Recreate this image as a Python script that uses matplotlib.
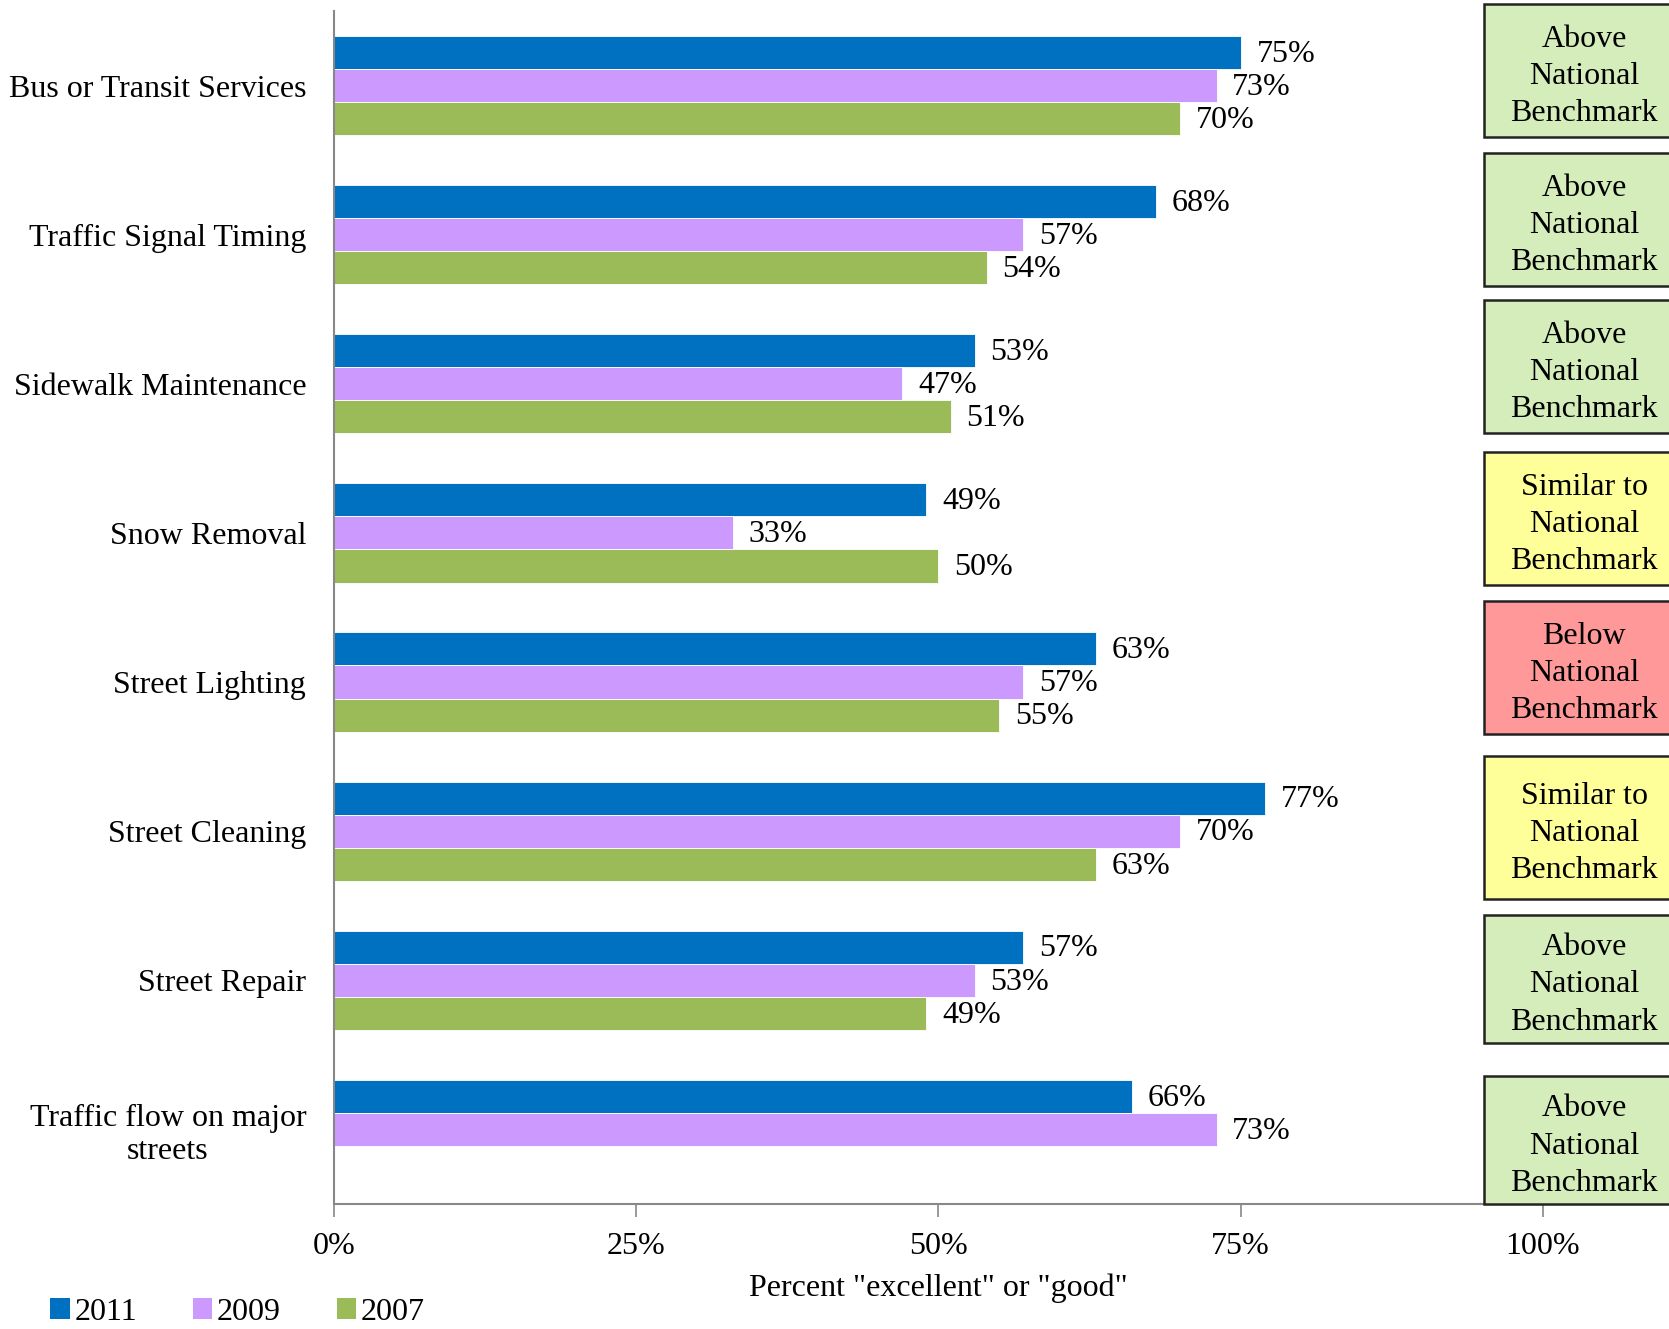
import numpy as np
import matplotlib.pyplot as plt
from matplotlib.patches import Rectangle, Patch

categories = ["Bus or Transit Services", "Traffic Signal Timing", "Sidewalk Maintenance",
              "Snow Removal", "Street Lighting", "Street Cleaning", "Street Repair",
              "Traffic flow on major\nstreets"]
years = ["2011", "2009", "2007"]
v2011 = [75, 68, 53, 49, 63, 77, 57, 66]
v2009 = [73, 57, 47, 33, 57, 70, 53, 73]
v2007 = [70, 54, 51, 50, 55, 63, 49, None]
benchmarks = ["Above", "Above", "Above", "Similar to", "Below", "Similar to", "Above", "Above"]

colors = ["#0070C0", "#CC99FF", "#9BBB59"]
bench_colors = {"Above": "#D4EDBA", "Similar to": "#FFFF99", "Below": "#FF9999"}

plt.rcParams['font.family'] = ['Liberation Serif', 'DejaVu Serif']
fs = 23

fig = plt.figure(figsize=(16.69, 13.29), dpi=100)
ax = fig.add_axes([0.2001, 0.0941, 0.7244, 0.8976])

n = len(categories)
y = np.arange(n)
h = 0.222
for k, vals in enumerate([v2011, v2009, v2007]):
    for i, v in enumerate(vals):
        if v is None:
            continue
        yy = y[i] + (k - 1) * h
        ax.barh(yy, v / 100, height=h, color=colors[k], edgecolor="white", linewidth=0.6)
        ax.text(v / 100 + 0.013, yy + 0.012, f"{v}%", va="center", ha="left", fontsize=fs)

ax.set_ylim(n - 0.5, -0.5)
ax.set_xlim(0, 1)
ax.set_yticks(y)
ax.set_yticklabels(categories, fontsize=fs, ha="right", multialignment="center")
ax.tick_params(axis="y", length=0, pad=20)
ax.set_xticks([0, 0.25, 0.5, 0.75, 1.0])
ax.set_xticklabels(["0%", "25%", "50%", "75%", "100%"], fontsize=fs)
ax.tick_params(axis="x", direction="out", length=9, width=1.2, color="#888888", pad=11)
ax.set_xlabel('Percent "excellent" or "good"', fontsize=fs, labelpad=9)
for s in ["top", "right"]:
    ax.spines[s].set_visible(False)
for s in ["left", "bottom"]:
    ax.spines[s].set_color("#888888")
    ax.spines[s].set_linewidth(1.5)

# benchmark boxes (figure pixel coordinates)
W, H = 1669, 1329
box_y = [(4, 137), (153, 286), (300, 433), (452, 585), (601, 734), (756, 899), (915, 1043), (1076, 1204)]
for (y0, y1), b in zip(box_y, benchmarks):
    rect = Rectangle((1484 / W, 1 - y1 / H), 220 / W, (y1 - y0) / H, transform=fig.transFigure,
                     facecolor=bench_colors[b], edgecolor="#222222", linewidth=1.8, clip_on=False)
    fig.patches.append(rect)
    fig.text(1584 / W, 1 - ((y0 + y1) / 2 + 6) / H, f"{b}\nNational\nBenchmark", ha="center",
             va="center", fontsize=fs, linespacing=1.37)

handles = [Patch(facecolor=c, label=yr) for c, yr in zip(colors, years)]
fig.legend(handles=handles, loc="lower left", bbox_to_anchor=(0.013, -0.02), ncol=3,
           frameon=False, fontsize=fs, handlelength=0.6, handleheight=0.6,
           handletextpad=0.15, columnspacing=1.75)

fig.savefig("out.png", dpi=100)
